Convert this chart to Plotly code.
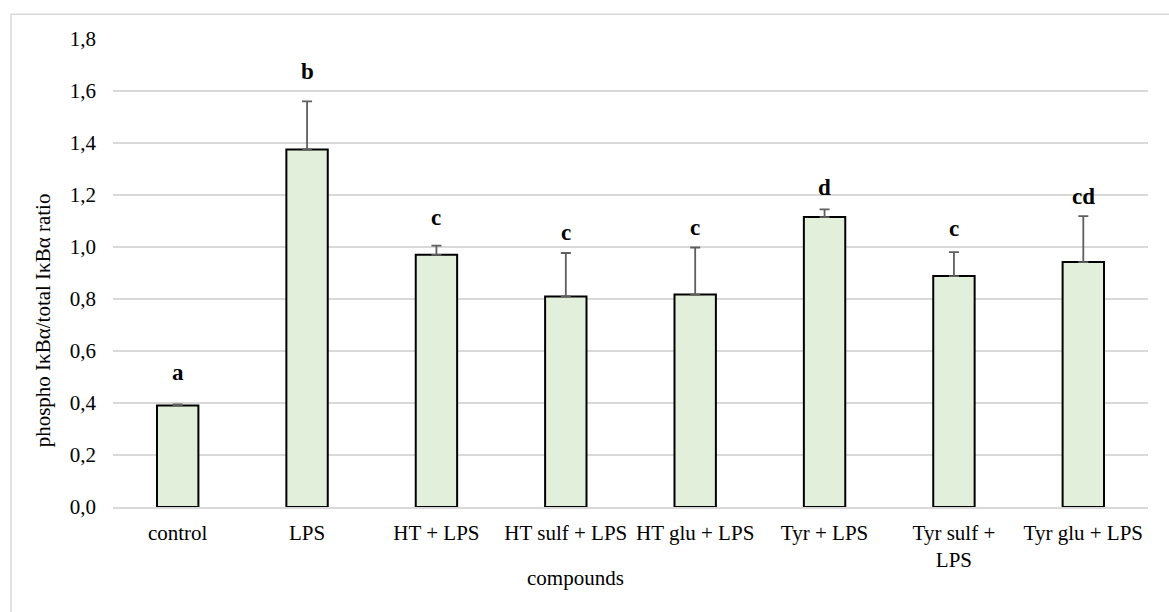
import plotly.graph_objects as go

# Data
compounds = ["control", "LPS", "HT + LPS", "HT sulf + LPS", "HT glu + LPS",
             "Tyr + LPS", "Tyr sulf +<br>LPS", "Tyr glu + LPS"]
ratio = [0.39, 1.375, 0.97, 0.81, 0.817, 1.115, 0.888, 0.942]
sd = [0.005, 0.185, 0.035, 0.167, 0.181, 0.03, 0.092, 0.177]
letters = ["a", "b", "c", "c", "c", "d", "c", "cd"]

# Pixel gap between each letter and the top of its error bar
label_gap = [22, 20, 19, 11, 11, 12, 14, 10]

FONT = "Liberation Serif"
W, H = 1169, 612
L, R, T, B = 113, 21, 38.7, 105.3

fig = go.Figure()
fig.add_trace(go.Bar(
    x=compounds, y=ratio,
    width=0.32,
    marker=dict(color="#e2efda", line=dict(color="#000000", width=2)),
    error_y=dict(type="data", array=sd, arrayminus=[0] * len(sd), symmetric=False,
                 color="#5f5f5f", thickness=1.8, width=5),
    hoverinfo="x+y",
))

annotations = []
for c, v, e, t, g in zip(compounds, ratio, sd, letters, label_gap):
    annotations.append(dict(
        x=c, y=v + e, xref="x", yref="y", text=f"<b>{t}</b>", showarrow=False,
        yanchor="bottom", yshift=g - 5,
        font=dict(family=FONT, size=23, color="#000000"),
    ))

pw, ph = W - L - R, H - T - B
# Axis titles
annotations.append(dict(
    text="compounds", xref="paper", yref="paper",
    x=(575 - L) / pw, y=-(578 - (T + ph)) / ph, showarrow=False,
    xanchor="center", yanchor="middle",
    font=dict(family=FONT, size=21, color="#000000"),
))
annotations.append(dict(
    text="phospho IκBα/total IκBα ratio", xref="paper", yref="paper",
    x=(43 - L) / pw, y=1 - (320 - T) / ph, showarrow=False, textangle=-90,
    xanchor="center", yanchor="middle",
    font=dict(family=FONT, size=21, color="#000000"),
))

# Chart-area border
shapes = [dict(
    type="rect", xref="paper", yref="paper",
    x0=(11 - L) / pw, x1=(1180 - L) / pw,
    y0=-(626 - (T + ph)) / ph, y1=1 + (T - 14) / ph,
    line=dict(color="#d9d9d9", width=1.5), fillcolor="rgba(0,0,0,0)", layer="below",
)]

fig.update_layout(
    width=W, height=H,
    margin=dict(l=L, r=R, t=T, b=B, pad=0),
    paper_bgcolor="#ffffff", plot_bgcolor="#ffffff",
    separators=",.",
    showlegend=False,
    bargap=0.68,
    font=dict(family=FONT, size=21, color="#000000"),
    annotations=annotations,
    shapes=shapes,
    xaxis=dict(
        type="category",
        showgrid=False, showline=True, linecolor="#d9d9d9", linewidth=1.5,
        ticks="", tickfont=dict(family=FONT, size=21, color="#000000"),
        ticklabelstandoff=6,
    ),
    yaxis=dict(
        range=[0, 1.8], dtick=0.2, tickformat=".1f",
        showgrid=True, gridcolor="#d9d9d9", gridwidth=1.5,
        zeroline=False, showline=False, ticks="",
        tickfont=dict(family=FONT, size=21, color="#000000"),
        ticklabelstandoff=16,
    ),
)

fig.write_html("out.html")
